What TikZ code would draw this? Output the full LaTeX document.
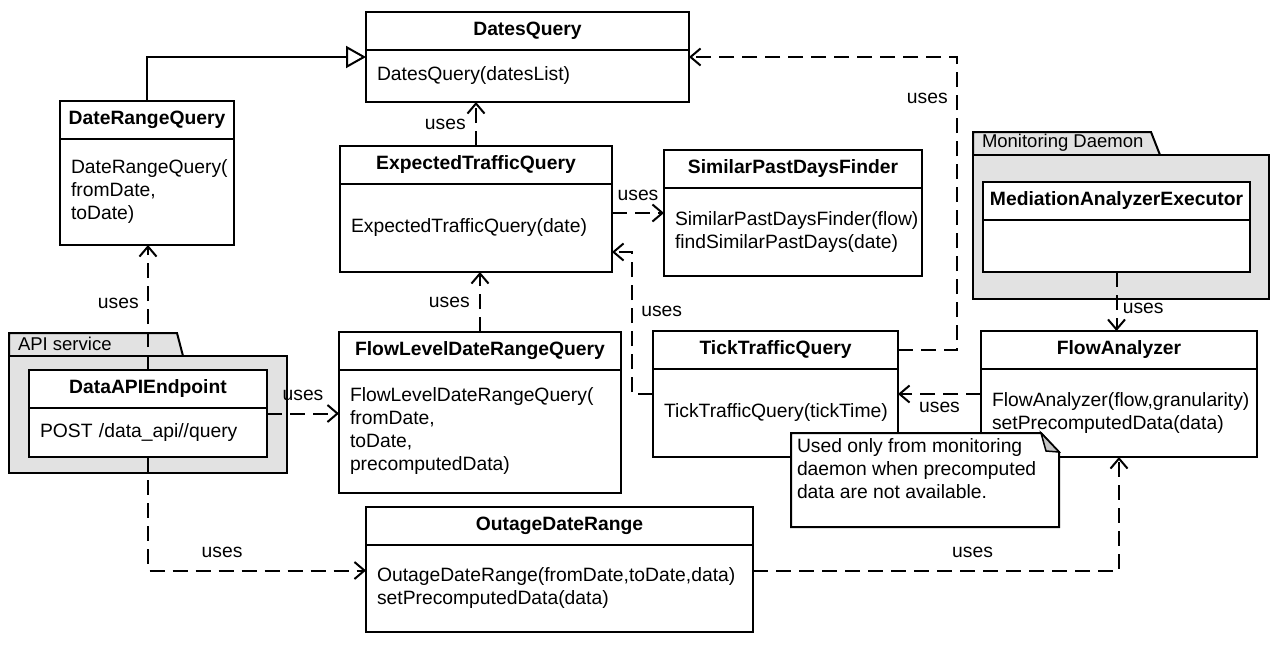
\documentclass[tikz,border=0pt]{standalone}
\usepackage{fontspec}
\setmainfont{Liberation Sans}
\usetikzlibrary{arrows.meta}
\definecolor{pkggray}{HTML}{E2E2E2}
\definecolor{foldgray}{HTML}{C4C4C4}
\hyphenpenalty=10000
\exhyphenpenalty=10000

\begin{document}
\begin{tikzpicture}[x=1pt,y=-1pt,line width=2pt,
                    font=\fontsize{19.3}{23}\selectfont]
  \tikzstyle{classhead}=[draw,fill=white,anchor=north west,outer sep=0pt,
                         minimum height=38pt,inner sep=0pt,
                         font=\fontsize{19.3}{23}\selectfont\bfseries]
  \tikzstyle{classbody}=[draw,fill=white,anchor=north west,outer sep=0pt,
                         align=left,inner xsep=11pt,inner ysep=0pt]
  \tikzstyle{uses}=[dash pattern=on 15pt off 8pt,
                    -{Straight Barb[length=10pt,width=17pt]}]
  \tikzstyle{extends}=[-{Triangle[length=20pt,width=22pt,fill=white]}]
  \tikzstyle{package}=[draw,fill=pkggray]
  \tikzstyle{pkglabel}=[anchor=west,inner sep=0pt,
                        font=\fontsize{18.5}{22}\selectfont]

  \useasboundingbox (0,0) rectangle (1271,648);

  % packages
  \draw[package] (9,356) -- (9,333) -- (177,333) -- (183,356);
  \draw[package] (9,356) rectangle (287,473);
  \node[pkglabel] (apilabel) at (17,344) {API service};
  \draw[package] (973,155) -- (973,132) -- (1151,132) -- (1160,155);
  \draw[package] (973,155) rectangle (1269,299);
  \node[pkglabel] (monlabel) at (981,143) {Monitoring Daemon};

  % classes
  \node[classhead,minimum width=323pt] (dq)    at (366,12)  {DatesQuery};
  \node[classbody,text width=301pt,minimum height=52pt] (dqb) at (dq.south west)
       {DatesQuery(datesList)};
  \node[classhead,minimum width=174pt] (drq)   at (60,101)  {DateRangeQuery};
  \node[classbody,text width=152pt,minimum height=106pt] (drqb) at (drq.south west)
       {DateRangeQuery(\\fromDate,\\toDate)};
  \node[classhead,minimum width=272pt] (etq)   at (340,146) {ExpectedTrafficQuery};
  \node[classbody,text width=250pt,minimum height=88pt] (etqb) at (etq.south west)
       {ExpectedTrafficQuery(date)};
  \node[classhead,minimum width=258pt] (spdf)  at (664,150) {SimilarPastDaysFinder};
  \node[classbody,text width=236pt,minimum height=88pt] (spdfb) at (spdf.south west)
       {SimilarPastDaysFinder(flow)\\findSimilarPastDays(date)};
  \node[classhead,minimum width=267pt] (mae)   at (983,182) {MediationAnalyzerExecutor};
  \node[classbody,text width=245pt,minimum height=52pt] (maeb) at (mae.south west) {};
  \node[classhead,minimum width=282pt] (fldrq) at (339,332) {FlowLevelDateRangeQuery};
  \node[classbody,text width=260pt,minimum height=123pt] (fldrqb) at (fldrq.south west)
       {FlowLevelDateRangeQuery(\\fromDate,\\toDate,\\precomputedData)};
  \node[classhead,minimum width=245pt] (ttq)   at (653,331) {TickTrafficQuery};
  \node[classbody,text width=223pt,minimum height=88pt] (ttqb) at (ttq.south west)
       {TickTrafficQuery(tickTime)};
  \node[classhead,minimum width=276pt] (fa)    at (981,331) {FlowAnalyzer};
  \node[classbody,text width=254pt,minimum height=88pt] (fab) at (fa.south west)
       {FlowAnalyzer(flow,granularity)\\setPrecomputedData(data)};
  \node[classhead,minimum width=238pt] (dae)   at (29,370)  {DataAPIEndpoint};
  \node[classbody,text width=216pt,minimum height=49pt] (daeb) at (dae.south west)
       {POST /data\_api//query};
  \node[classhead,minimum width=387pt] (odr)   at (366,507) {OutageDateRange};
  \node[classbody,text width=365pt,minimum height=87pt] (odrb) at (odr.south west)
       {OutageDateRange(fromDate,toDate,data)\\setPrecomputedData(data)};

  % note
  \draw[fill=white] (791,433) -- (1041,433) -- (1059,452) -- (1059,527)
                    -- (791,527) -- cycle;
  \draw[fill=foldgray,line width=1.5pt] (1041,433) -- (1046,451) -- (1059,452) -- cycle;
  \node[anchor=north west,align=left,inner sep=5pt] (note) at (791,433)
       {Used only from monitoring\\daemon when precomputed\\data are not available.};

  % relations
  \coordinate (e1) at ([yshift=15pt]etqb.east);
  \coordinate (t1) at ([yshift=19pt]ttqb.west);
  \coordinate (t2) at ([yshift=-24pt]etqb.east);
  \coordinate (f1) at ([yshift=19pt]fab.west);
  \coordinate (a1) at ([yshift=19pt]daeb.east);
  \coordinate (o1) at ([yshift=18pt]odrb.west);
  \coordinate (o2) at ([yshift=18pt]odrb.east);

  \draw[extends] (drq.north) |- ([yshift=-7pt]dqb.north west);
  \draw[uses] (etq.north) -- (etq.north |- dqb.south)
              node[midway,left=6pt] {uses};
  \draw[uses] (fldrq.north) -- (fldrq.north |- etqb.south)
              node[midway,left=6pt] {uses};
  \draw[uses] (e1) -- (e1 -| spdfb.west) node[midway,above=8pt] {uses};
  \draw[uses] (t1) -- ++(-21,0) |- node[pos=0.29,right=5pt] {uses} (t2);
  \draw[uses] (ttq.east) -- ++(59,0) |- node[pos=0.43,left=5pt] {uses}
              ([yshift=-7pt]dqb.north east);
  \draw[uses] (maeb.south) -- (maeb.south |- fa.north)
              node[pos=0.62,right=2pt] {uses};
  \draw[uses] (f1) -- (f1 -| ttqb.east) node[midway,below=4pt] {uses};
  \draw[uses] (dae.north) -- (dae.north |- drqb.south)
              node[pos=0.53,left=5pt] {uses};
  \draw[uses] (a1) -- (a1 -| fldrqb.west) node[midway,above=8pt] {uses};
  \draw[uses] (daeb.south) |- node[pos=0.67,above=8pt] {uses} (o1);
  \draw[uses] (o2) -| node[pos=0.3,above=8pt] {uses} (fab.south);
\end{tikzpicture}
\end{document}
